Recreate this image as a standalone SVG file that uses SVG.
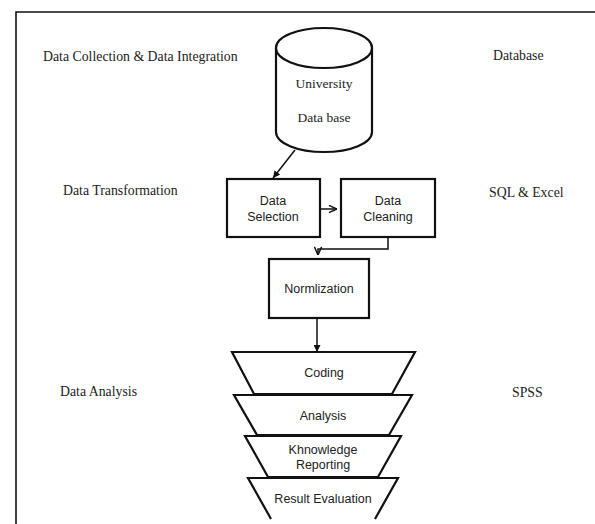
<svg xmlns="http://www.w3.org/2000/svg" width="595" height="524" viewBox="0 0 595 524">
<defs>
<style>
.lbl{font-family:"Liberation Serif","Times New Roman",serif;font-size:13.8px;fill:#222}
.nt{font-family:"Liberation Sans",Arial,sans-serif;font-size:12.5px;fill:#222;text-anchor:middle}
.cyl{font-family:"Liberation Serif","Times New Roman",serif;font-size:13.5px;fill:#222;text-anchor:middle}
.sh{fill:#fff;stroke:#111;stroke-width:2.2}
.cn{fill:none;stroke:#111;stroke-width:1.5}
</style>
<marker id="fa" viewBox="0 0 10 10" refX="10" refY="5" markerWidth="7" markerHeight="7" markerUnits="userSpaceOnUse" orient="auto"><path d="M0,0 L10,5 L0,10 z" fill="#111"/></marker>
<marker id="oa" viewBox="0 0 10 10" refX="10" refY="5" markerWidth="9" markerHeight="9" markerUnits="userSpaceOnUse" orient="auto"><path d="M1,1 L10,5 L1,9" fill="none" stroke="#111" stroke-width="1.6"/></marker>
</defs>
<rect width="595" height="524" fill="#fff"/>
<path d="M16,524 V12 H595" fill="none" stroke="#111" stroke-width="1.6"/>

<g id="labels">
<text class="lbl" x="43" y="61">Data Collection &amp; Data Integration</text>
<text class="lbl" x="493" y="60">Database</text>
<text class="lbl" x="63" y="195">Data Transformation</text>
<text class="lbl" x="489" y="197">SQL &amp; Excel</text>
<text class="lbl" x="60" y="396">Data Analysis</text>
<text class="lbl" x="512" y="397">SPSS</text>
</g>

<g id="connectors">
<line class="cn" x1="295" y1="150" x2="273" y2="178" marker-end="url(#fa)"/>
<line class="cn" x1="320" y1="209" x2="337" y2="209" marker-end="url(#oa)"/>
<path class="cn" d="M388,237 V249 H318 V255" marker-end="url(#oa)"/>
<line class="cn" x1="317" y1="319" x2="317" y2="352" marker-end="url(#fa)"/>
</g>

<g id="university-db">
<path class="sh" d="M276,48 V132 A48,20 0 0 0 372,132 V48"/>
<ellipse class="sh" cx="324" cy="48" rx="48" ry="20"/>
<text class="cyl" x="324" y="88">University</text>
<text class="cyl" x="324" y="122">Data base</text>
</g>

<g id="data-selection">
<rect class="sh" x="227" y="179" width="93" height="58"/>
<text class="nt" x="273" y="205">Data</text>
<text class="nt" x="273" y="221">Selection</text>
</g>

<g id="data-cleaning">
<rect class="sh" x="341" y="179" width="94" height="58"/>
<text class="nt" x="388" y="205">Data</text>
<text class="nt" x="388" y="221">Cleaning</text>
</g>

<g id="normlization">
<rect class="sh" x="269" y="259" width="100" height="59"/>
<text class="nt" x="319" y="293">Normlization</text>
</g>

<g id="coding">
<path class="sh" d="M232,352 H415 L392,394 H254 Z"/>
<text class="nt" x="324" y="377">Coding</text>
</g>

<g id="analysis">
<path class="sh" d="M234,395 H412 L389,435 H257 Z"/>
<text class="nt" x="323" y="420">Analysis</text>
</g>

<g id="knowledge-reporting">
<path class="sh" d="M245,436 H401 L378,477 H268 Z"/>
<text class="nt" x="323" y="454">Khnowledge</text>
<text class="nt" x="323" y="469">Reporting</text>
</g>

<g id="result-evaluation">
<path class="sh" d="M271,519 L248,478 H398 L375,519"/>
<text class="nt" x="323" y="503">Result Evaluation</text>
</g>
</svg>
